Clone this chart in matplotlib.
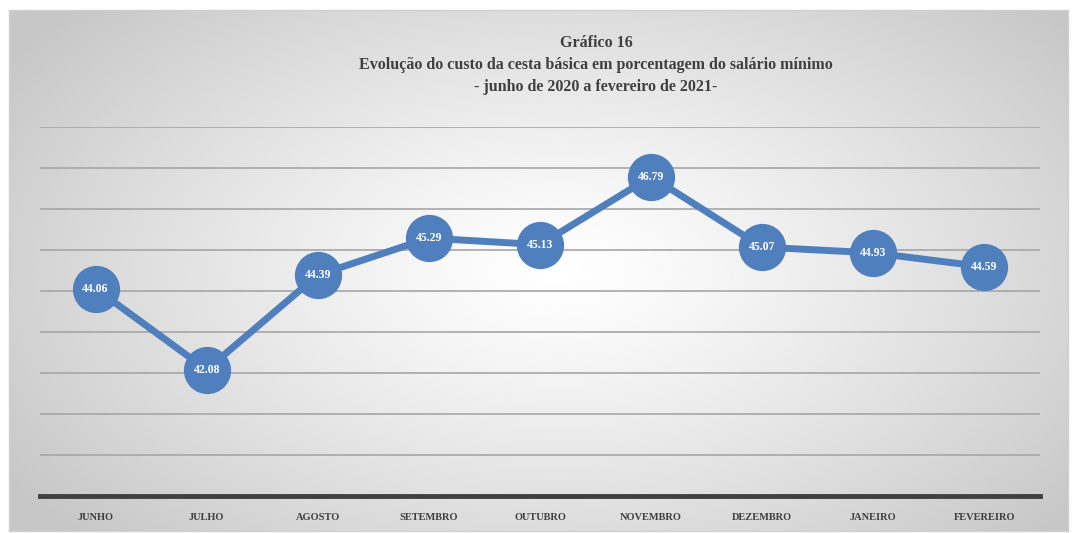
import numpy as np
import matplotlib.pyplot as plt

# Data
meses = ["JUNHO", "JULHO", "AGOSTO", "SETEMBRO", "OUTUBRO", "NOVEMBRO",
         "DEZEMBRO", "JANEIRO", "FEVEREIRO"]
valores = [44.06, 42.08, 44.39, 45.29, 45.13, 46.79, 45.07, 44.93, 44.59]

titulo = ("Gráfico 16\n"
          "Evolução do custo da cesta básica em porcentagem do salário mínimo\n"
          "- junho de 2020 a fevereiro de 2021-")

# Style
COR_LINHA = "#4f7fbc"
COR_TEXTO = "#404040"
FONTE = dict(family=["Liberation Serif", "DejaVu Serif"], weight="bold")

W, H = 1072, 533


def main():
    fig = plt.figure(figsize=(W / 100, H / 100), dpi=100)
    fig.patch.set_facecolor("white")

    # Radial gradient panel
    bg = fig.add_axes([9 / W, (H - 531) / H, (1068 - 9) / W, (531 - 10) / H])
    yy, xx = np.mgrid[0:1:300j, 0:1:600j]
    r = np.sqrt(((xx - 0.52) / 0.62) ** 2 + ((yy - 0.5) / 0.75) ** 2)
    r = np.clip(r, 0, 1)
    img = 1.0 - 0.22 * r ** 1.2
    bg.imshow(img, cmap="gray", vmin=0, vmax=1, aspect="auto",
              extent=[0, 1, 0, 1], interpolation="bicubic")
    bg.set_xticks([])
    bg.set_yticks([])
    for s in bg.spines.values():
        s.set_color("#d0d0d0")
        s.set_linewidth(1)

    # Plot axes
    ax = fig.add_axes([40 / W, (H - 496) / H, 1000 / W, (496 - 127) / H])
    ax.patch.set_alpha(0)
    x = np.arange(len(meses))
    ax.set_xlim(-0.5, len(meses) - 0.5)
    ax.set_ylim(39, 48)
    ax.set_yticks(np.arange(39, 49, 1))
    ax.yaxis.grid(True, color="#a6a6a6", lw=1.2)
    ax.set_axisbelow(True)
    ax.tick_params(axis="y", left=False, labelleft=False)
    ax.tick_params(axis="x", length=0, pad=12, labelsize=7.5, colors=COR_TEXTO)
    ax.set_xticks(x)
    ax.set_xticklabels(meses, **FONTE)
    for s in ["left", "right", "top"]:
        ax.spines[s].set_visible(False)
    ax.spines["bottom"].set_color("#404040")
    ax.spines["bottom"].set_linewidth(3.5)
    ax.spines["bottom"].set_zorder(3)

    ax.plot(x, valores, color=COR_LINHA, lw=5, marker="o", markersize=33,
            markerfacecolor=COR_LINHA, markeredgecolor=COR_LINHA, zorder=4,
            clip_on=False)
    for xi, v in zip(x, valores):
        ax.text(xi, v, f"{v:.2f}", color="white", ha="center", va="center",
                fontsize=8.5, zorder=5, **FONTE)

    fig.text(596 / W, 1 - 35 / H, titulo, ha="center", va="top",
             fontsize=11.5, color=COR_TEXTO, linespacing=1.5, **FONTE)

    fig.savefig("out.png", dpi=100)
    plt.close(fig)


if __name__ == "__main__":
    main()
